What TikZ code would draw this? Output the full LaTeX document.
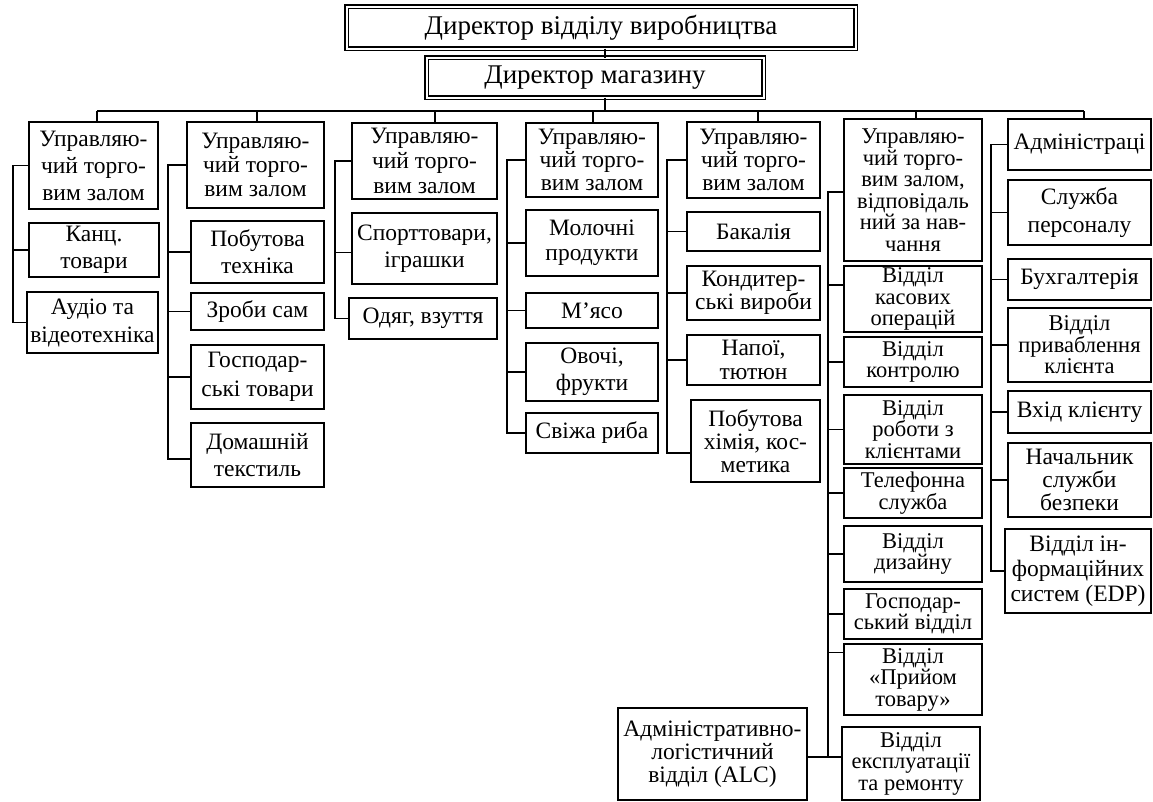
\documentclass[tikz,border=0pt]{standalone}
\usepackage{fontspec}
\setmainfont{Liberation Serif}
\newcommand\ftop{\fontsize{27}{30}\selectfont}
\tikzset{
  box/.style={draw, line width=1.8pt, inner sep=0pt, outer sep=0pt, align=center, font=\fontsize{23.5pt}{27pt}\selectfont},
  ls/.style={font=\fontsize{23.5pt}{#1pt}\selectfont},
  tbox/.style={box, font=\fontsize{22.5pt}{21.5pt}\selectfont},
  topbox/.style={draw, double, line width=1.4pt, double distance=2pt, inner sep=0pt, outer sep=0pt, align=center, font=\ftop},
  wh/.style 2 args={minimum width=#1pt, minimum height=#2pt},
  conn/.style={line width=1.6pt},
}
\begin{document}
\begin{tikzpicture}[x=1pt,y=-1pt]
\useasboundingbox (0,0) rectangle (1153,801);
% top
\node[topbox, wh={509}{42}] (t1) at (601,27.5) {Директор відділу виробництва};
\node[topbox, wh={337}{40}] (t2) at (595,77.5) {Директор магазину};
% column 1
\node[box, ls=27, wh={129}{87}] (c1) at (93.5,165.5) {Управляю-\\чий торго-\\вим залом};
\node[box, ls=27, wh={130}{54}] (c1a) at (94,250) {Канц.\\товари};
\node[box, ls=28, wh={131}{61}] (c1b) at (92.5,322.5) {Аудіо та\\відеотехніка};
% column 2
\node[box, ls=24, wh={137}{86}] (c2) at (255.5,165) {Управляю-\\чий торго-\\вим залом};
\node[box, ls=27, wh={133}{62}] (c2a) at (257.5,252) {Побутова\\техніка};
\node[box, wh={133}{37}] (c2b) at (257.5,311.5) {Зроби сам};
\node[box, ls=29, wh={133}{64}] (c2c) at (257.5,377) {Господар-\\ські товари};
\node[box, ls=27, wh={133}{64}] (c2d) at (257.5,455) {Домашній\\текстиль};
% column 3
\node[box, ls=25, wh={145}{76}] (c3) at (424.5,161) {Управляю-\\чий торго-\\вим залом};
\node[box, ls=27, wh={145}{71}] (c3a) at (424.5,248.5) {Спорттовари,\\іграшки};
\node[box, wh={148}{41}] (c3b) at (423,318.5) {Одяг, взуття};
% column 4
\node[box, ls=23, wh={132}{74}] (c4) at (592,160) {Управляю-\\чий торго-\\вим залом};
\node[box, ls=25, wh={132}{66}] (c4a) at (592,243) {Молочні\\продукти};
\node[box, wh={132}{35}] (c4b) at (592,310.5) {М’ясо};
\node[box, ls=27, wh={132}{58}] (c4c) at (592,372) {Овочі,\\фрукти};
\node[box, wh={132}{40}] (c4d) at (592,433) {Свіжа риба};
% column 5
\node[box, ls=23, wh={133}{76}] (c5) at (753.5,160) {Управляю-\\чий торго-\\вим залом};
\node[box, wh={133}{39}] (c5a) at (753.5,231.5) {Бакалія};
\node[box, ls=23, wh={133}{54}] (c5b) at (753.5,293) {Кондитер-\\ські вироби};
\node[box, ls=24, wh={133}{50}] (c5c) at (753.5,360) {Напої,\\тютюн};
\node[box, ls=23, wh={129}{82}] (c5d) at (755.5,441) {Побутова\\хімія, кос-\\метика};
% column 6
\node[tbox, wh={138}{142}] (c6) at (913,190) {Управляю-\\чий торго-\\вим залом,\\відповідаль\\ний за нав-\\чання};
\node[tbox, wh={138}{66}] (c6a) at (913,299) {Відділ\\касових\\операцій};
\node[tbox, wh={138}{50}] (c6b) at (913,362) {Відділ\\контролю};
\node[tbox, wh={138}{69}] (c6c) at (913,429.5) {Відділ\\роботи з\\клієнтами};
\node[tbox, wh={138}{50}] (c6d) at (913,493) {Телефонна\\служба};
\node[tbox, wh={138}{56}] (c6e) at (913,554) {Відділ\\дизайну};
\node[tbox, wh={138}{50}] (c6f) at (913,614) {Господар-\\ський відділ};
\node[tbox, wh={138}{71}] (c6g) at (913,679.5) {Відділ\\«Прийом\\товару»};
\node[tbox, wh={138}{73}] (c6h) at (911,763.5) {Відділ\\експлуатації\\та ремонту};
% column 7
\node[box, wh={143}{51}] (c7) at (1079.5,144.5) {Адміністраці};
\node[box, ls=28, wh={143}{65}] (c7a) at (1079.5,212.5) {Служба\\персоналу};
\node[box, wh={143}{41}] (c7b) at (1079.5,279.5) {Бухгалтерія};
\node[tbox, wh={143}{74}] (c7c) at (1079.5,345) {Відділ\\приваблення\\клієнта};
\node[box, wh={143}{42}] (c7d) at (1079.5,412) {Вхід клієнту};
\node[box, ls=23, wh={143}{74}] (c7e) at (1079.5,480) {Начальник\\служби\\безпеки};
\node[box, ls=25, wh={146}{84}] (c7f) at (1078,571) {Відділ ін-\\формаційних\\систем (EDP)};
% ALC
\node[box, ls=23, wh={189}{92}] (alc) at (712.5,754) {Адміністративно-\\логістичний\\відділ (ALC)};
% connectors top
\coordinate (bus) at (0,111);
\draw[conn] ([xshift=4pt]t1.south) -- ([xshift=4pt]t1.south |- t2.north);
\draw[conn] ([xshift=10pt]t2.south) -- ([xshift=10pt]t2.south |- bus);
\draw[conn] ([xshift=3.5pt]c1.north |- bus) -- ([xshift=4.5pt]c7.north |- bus);
\foreach \n/\s in {c1/3.5, c2/1.5, c3/10.5, c4/1, c5/4.5, c6/3, c7/4.5}
  \draw[conn] ([xshift=\s pt]\n.north) -- ([xshift=\s pt]\n.north |- bus);
% side bars
\coordinate (b1) at (13,0);
\coordinate (b2) at (168,0);
\coordinate (b3) at (335,0);
\coordinate (b4) at (507,0);
\coordinate (b5) at (667,0);
\coordinate (b6) at (828,0);
\coordinate (b7) at (991,0);
% col 1
\draw[conn] (c1.west) -- (c1.west -| b1) -- (c1b.west -| b1) -- (c1b.west);
\draw[conn] (c1a.west) -- (c1a.west -| b1);
% col 2
\draw[conn] (c2.west) -- (c2.west -| b2) -- ([yshift=-4pt]c2d.west -| b2) -- ([yshift=-4pt]c2d.west);
\foreach \n in {c2a,c2b,c2c} \draw[conn] (\n.west) -- (\n.west -| b2);
% col 3
\draw[conn] (c3.west) -- (c3.west -| b3) -- (c3b.west -| b3) -- (c3b.west);
\draw[conn] ([yshift=-4pt]c3a.west) -- ([yshift=-4pt]c3a.west -| b3);
% col 4
\draw[conn] (c4.west) -- (c4.west -| b4) -- (c4d.west -| b4) -- (c4d.west);
\foreach \n in {c4a,c4b,c4c} \draw[conn] (\n.west) -- (\n.west -| b4);
% col 5
\draw[conn] (c5.west) -- (c5.west -| b5) -- ([yshift=-12pt]c5d.west -| b5) -- ([yshift=-12pt]c5d.west);
\foreach \n in {c5a,c5b,c5c} \draw[conn] (\n.west) -- (\n.west -| b5);
% col 6
\draw[conn] ([yshift=-2pt]c6.west) -- ([yshift=-2pt]c6.west -| b6) -- ([yshift=-3pt]alc.east -| b6);
\draw[conn] ([yshift=-3pt]alc.east) -- ([yshift=-3pt]alc.east -| c6h.west);
\draw[conn] ([yshift=14pt]c6a.west) -- ([yshift=14pt]c6a.west -| b6);
\draw[conn] ([yshift=27pt]c6g.west) -- ([yshift=27pt]c6g.west -| b6);
\foreach \n in {c6b,c6c,c6d,c6e,c6f} \draw[conn] (\n.west) -- (\n.west -| b6);
% col 7
\draw[conn] (c7.west) -- (c7.west -| b7) -- (c7f.west -| b7) -- (c7f.west);
\foreach \n in {c7a,c7b,c7c,c7d,c7e} \draw[conn] (\n.west) -- (\n.west -| b7);
\end{tikzpicture}
\end{document}
